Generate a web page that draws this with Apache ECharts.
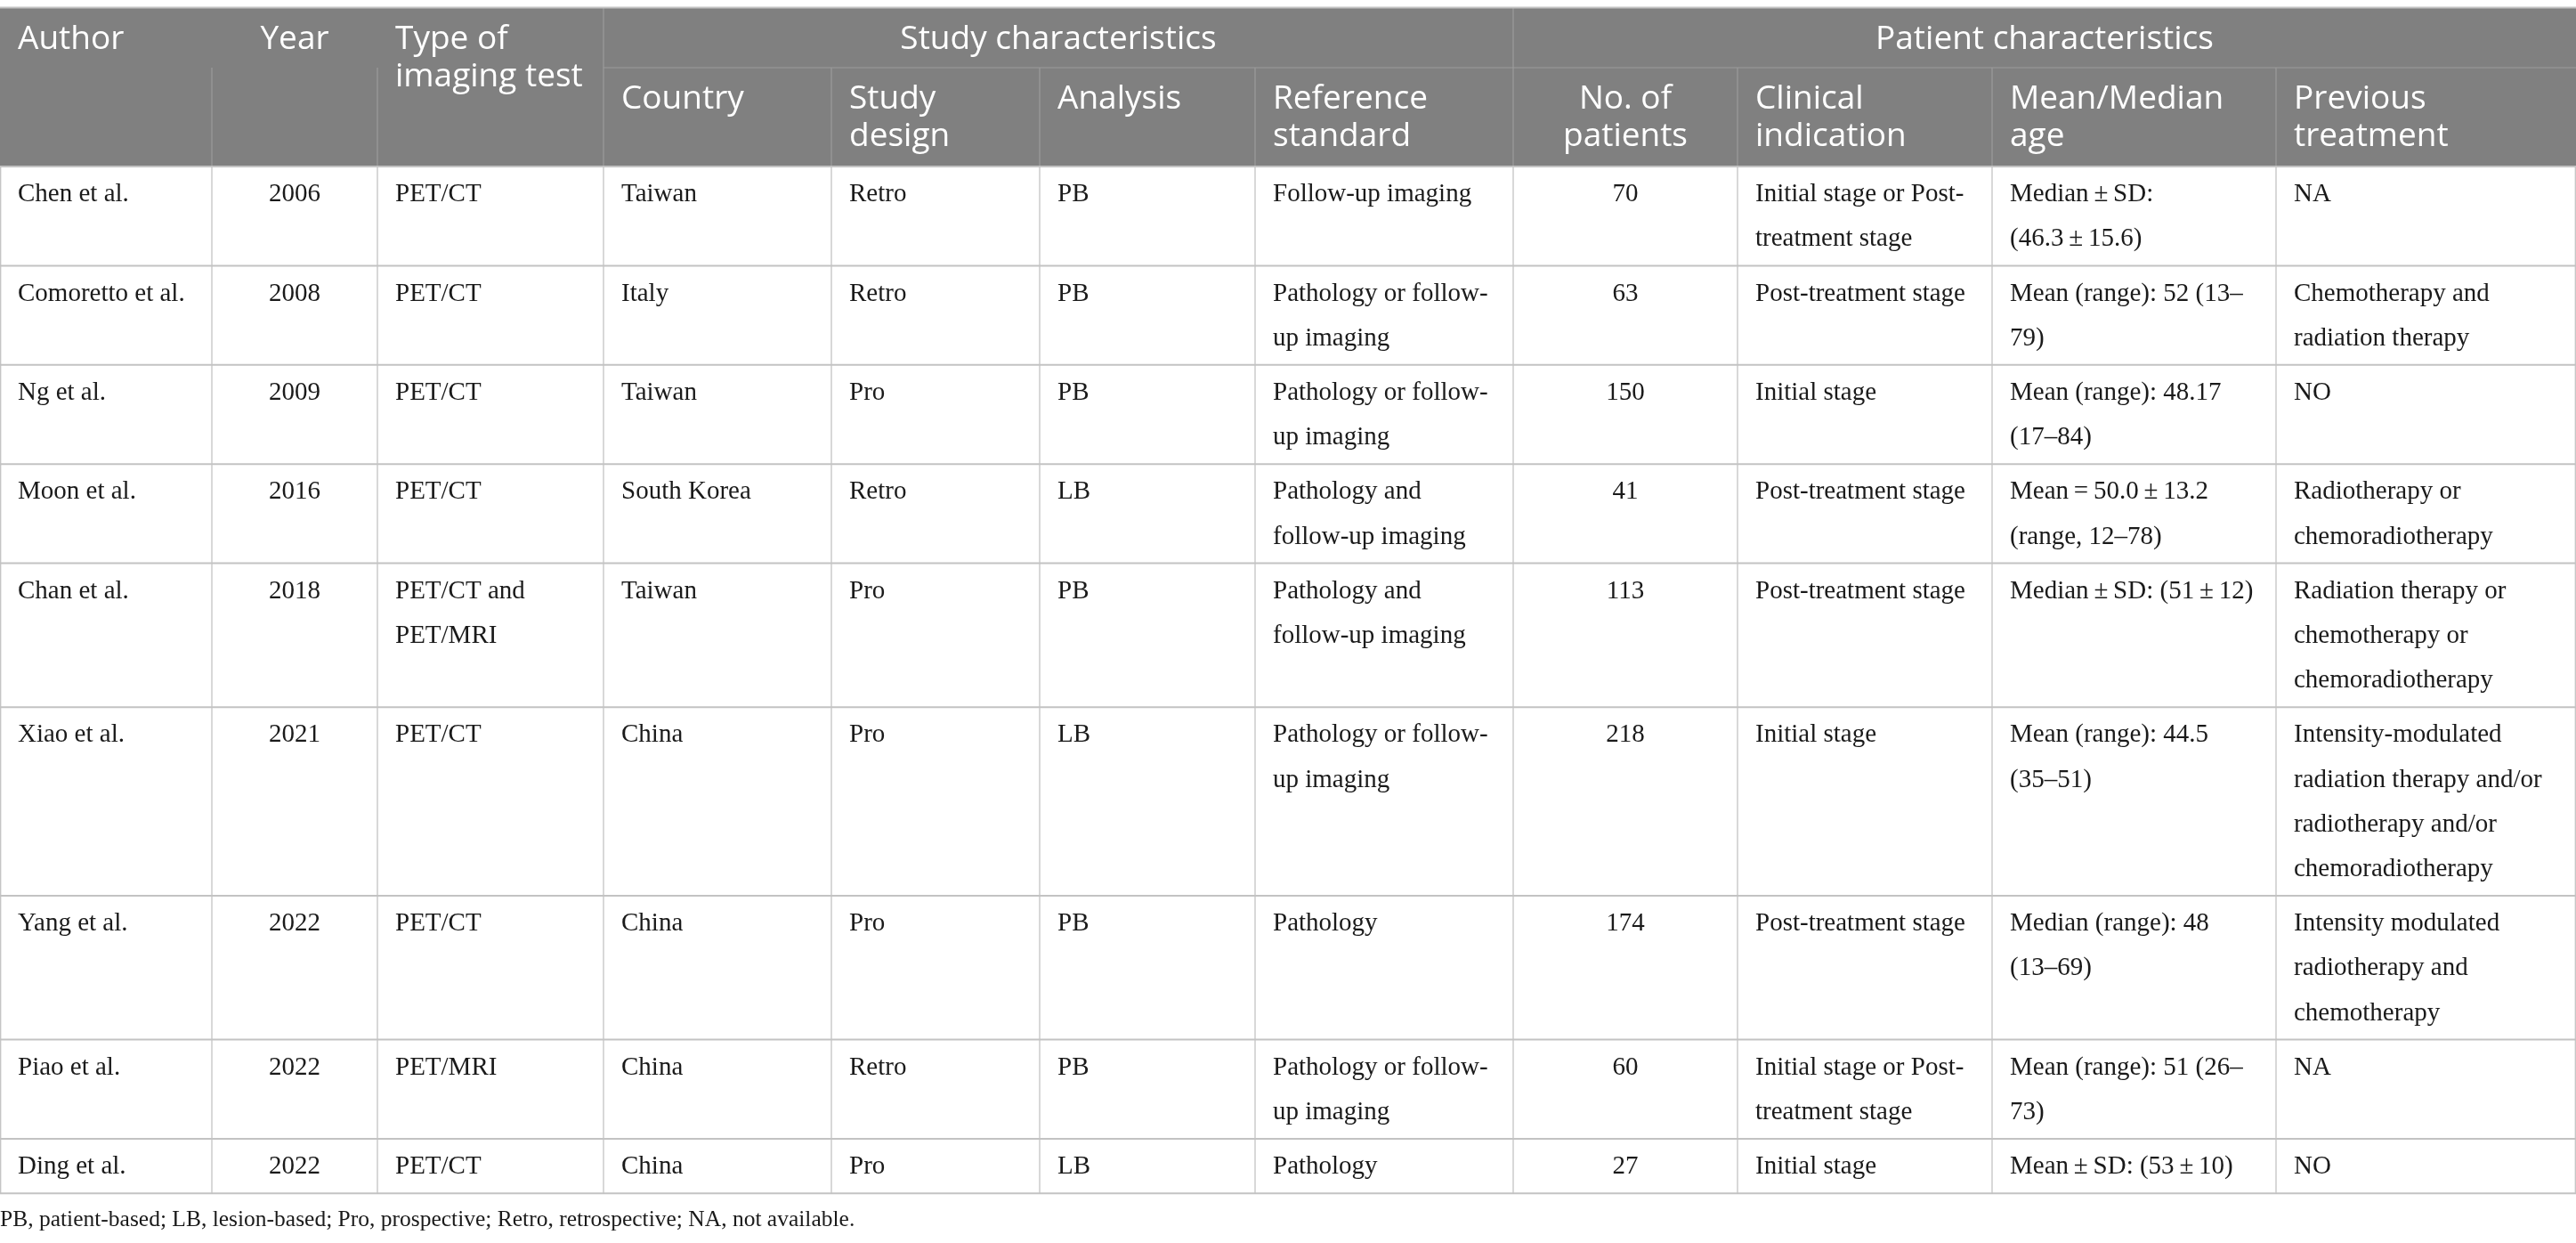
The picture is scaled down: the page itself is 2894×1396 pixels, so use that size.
<!DOCTYPE html>
<html>
<head>
<meta charset="utf-8">
<script src="https://cdn.jsdelivr.net/npm/echarts@6/dist/echarts.min.js"></script>
<style>
html,body{margin:0;padding:0;background:#fff;}
#chart{width:2894px;height:1396px;}
</style>
</head>
<body>
<div id="chart"></div>
<script>
// ---------------- DATA ----------------
const authors = ['Chen et al.', 'Comoretto et al.', 'Ng et al.', 'Moon et al.', 'Chan et al.', 'Xiao et al.', 'Yang et al.', 'Piao et al.', 'Ding et al.'];
const years = [2006, 2008, 2009, 2016, 2018, 2021, 2022, 2022, 2022];
const imagingTests = ['PET/CT', 'PET/CT', 'PET/CT', 'PET/CT', 'PET/CT and\nPET/MRI', 'PET/CT', 'PET/CT', 'PET/MRI', 'PET/CT'];
const countries = ['Taiwan', 'Italy', 'Taiwan', 'South Korea', 'Taiwan', 'China', 'China', 'China', 'China'];
const studyDesigns = ['Retro', 'Retro', 'Pro', 'Retro', 'Pro', 'Pro', 'Pro', 'Retro', 'Pro'];
const analyses = ['PB', 'PB', 'PB', 'LB', 'PB', 'LB', 'PB', 'PB', 'LB'];
const referenceStandards = ['Follow-up imaging', 'Pathology or follow-\nup imaging', 'Pathology or follow-\nup imaging', 'Pathology and\nfollow-up imaging', 'Pathology and\nfollow-up imaging', 'Pathology or follow-\nup imaging', 'Pathology', 'Pathology or follow-\nup imaging', 'Pathology'];
const patientCounts = [70, 63, 150, 41, 113, 218, 174, 60, 27];
const clinicalIndications = ['Initial stage or Post-\ntreatment stage', 'Post-treatment stage', 'Initial stage', 'Post-treatment stage', 'Post-treatment stage', 'Initial stage', 'Post-treatment stage', 'Initial stage or Post-\ntreatment stage', 'Initial stage'];
const ages = ['Median\u2009±\u2009SD:\n(46.3\u2009±\u200915.6)', 'Mean (range): 52 (13–\n79)', 'Mean (range): 48.17\n(17–84)', 'Mean\u2009=\u200950.0\u2009±\u200913.2\n(range, 12–78)', 'Median\u2009±\u2009SD: (51\u2009±\u200912)', 'Mean (range): 44.5\n(35–51)', 'Median (range): 48\n(13–69)', 'Mean (range): 51 (26–\n73)', 'Mean\u2009±\u2009SD: (53\u2009±\u200910)'];
const previousTreatments = ['NA', 'Chemotherapy and\nradiation therapy', 'NO', 'Radiotherapy or\nchemoradiotherapy', 'Radiation therapy or\nchemotherapy or\nchemoradiotherapy', 'Intensity-modulated\nradiation therapy and/or\nradiotherapy and/or\nchemoradiotherapy', 'Intensity modulated\nradiotherapy and\nchemotherapy', 'NA', 'NO'];

const groupHeaders = ['Study characteristics', 'Patient characteristics'];
const columnHeaders = ['Author', 'Year', 'Type of\nimaging test', 'Country', 'Study\ndesign', 'Analysis', 'Reference\nstandard', 'No. of\npatients', 'Clinical\nindication', 'Mean/Median\nage', 'Previous\ntreatment'];
const footnote = 'PB, patient-based; LB, lesion-based; Pro, prospective; Retro, retrospective; NA, not available.';

// ---------------- LAYOUT ----------------
const W = 2894, H = 1396;
const colEdges = [0, 238, 424, 678, 934, 1168, 1410, 1700, 1952, 2238, 2557, 2894];
const centeredCols = [1, 7];
const groupSpans = [[3, 7], [7, 11]];   // column index ranges for group headers
const headerTop = 9, headerMid = 76, headerBottom = 187;
const bodyLineH = 50.2, bodyRowPad = 11;
const padX = 20;
const bodyFont = 'Liberation Serif', headFont = 'Open Sans';
const bodySize = 29, headSize = 37, headLineH = 42;
const headPadTop = 14, bodyPadTop = 6.5;

const columns = [authors, years, imagingTests, countries, studyDesigns, analyses, referenceStandards, patientCounts, clinicalIndications, ages, previousTreatments];

// row boundaries from number of text lines
const rowEdges = [headerBottom];
authors.forEach((_, r) => {
  let n = 1;
  columns.forEach(c => { n = Math.max(n, String(c[r]).split('\n').length); });
  rowEdges.push(rowEdges[rowEdges.length - 1] + bodyRowPad + bodyLineH * n);
});

// cells: [x0, x1, y0, y1, idx]
const cellInfo = [];
const cellData = [];
function addCell(x0, x1, y0, y1, text, kind, align) {
  cellInfo.push({ text: text, kind: kind, align: align });
  cellData.push([x0, x1, y0, y1, cellInfo.length - 1]);
}
for (let c = 0; c < 3; c++) {
  addCell(colEdges[c], colEdges[c + 1], headerTop, headerBottom, columnHeaders[c], 'head', centeredCols.includes(c) ? 'center' : 'left');
}
groupSpans.forEach((g, i) => {
  addCell(colEdges[g[0]], colEdges[g[1]], headerTop, headerMid, groupHeaders[i], 'head', 'center');
});
for (let c = 3; c < columnHeaders.length; c++) {
  addCell(colEdges[c], colEdges[c + 1], headerMid, headerBottom, columnHeaders[c], 'head', centeredCols.includes(c) ? 'center' : 'left');
}
authors.forEach((_, r) => {
  columns.forEach((col, c) => {
    addCell(colEdges[c], colEdges[c + 1], rowEdges[r], rowEdges[r + 1], String(col[r]), 'body', centeredCols.includes(c) ? 'center' : 'left');
  });
});

// lines: [x0, y0, x1, y1, kindIdx]
const lineKinds = [
  { color: '#9b9b9b', width: 1.2 },  // header inner
  { color: '#c3c3c3', width: 2 },    // body horizontal
  { color: '#c3c3c3', width: 1.3 }   // body vertical
];
const lineData = [];
lineData.push([colEdges[3], headerMid, W, headerMid, 0]);
for (let c = 1; c < colEdges.length - 1; c++) {
  const y0 = (c === 3 || c === 7) ? headerTop : headerMid;
  lineData.push([colEdges[c], y0, colEdges[c], headerBottom, 0]);
}
lineData.push([0, headerTop - 0.5, W, headerTop - 0.5, 1]);
rowEdges.forEach(y => lineData.push([0, y, W, y, 1]));
colEdges.forEach((x, c) => {
  const xx = c === 0 ? 0.7 : (c === colEdges.length - 1 ? W - 0.7 : x);
  lineData.push([xx, headerBottom, xx, rowEdges[rowEdges.length - 1], 2]);
});

const chart = echarts.init(document.getElementById('chart'), null, { renderer: 'canvas' });
chart.setOption({
  animation: false,
  backgroundColor: '#ffffff',
  title: {
    text: footnote, left: 0, top: 1357, padding: 0,
    textStyle: { fontFamily: bodyFont, fontSize: 25.5, fontWeight: 'normal', color: '#1a1a1a' }
  },
  grid: { left: 0, right: 0, top: 0, bottom: 0 },
  xAxis: { type: 'value', min: 0, max: W, show: false },
  yAxis: { type: 'value', min: 0, max: H, inverse: true, show: false },
  series: [
    {
      type: 'custom',
      coordinateSystem: 'cartesian2d',
      data: cellData,
      silent: true,
      renderItem: function (params, api) {
        const info = cellInfo[api.value(4)];
        const p0 = api.coord([api.value(0), api.value(2)]);
        const p1 = api.coord([api.value(1), api.value(3)]);
        const isHead = info.kind === 'head';
        const children = [];
        if (isHead) {
          children.push({ type: 'rect', shape: { x: p0[0], y: p0[1], width: p1[0] - p0[0], height: p1[1] - p0[1] }, style: { fill: '#808080' } });
        }
        const tx = info.align === 'center' ? (p0[0] + p1[0]) / 2 : p0[0] + padX;
        children.push({
          type: 'text',
          x: tx,
          y: p0[1] + (isHead ? headPadTop : bodyPadTop),
          style: {
            text: info.text,
            fill: isHead ? '#ffffff' : '#1a1a1a',
            font: (isHead ? headSize : bodySize) + 'px "' + (isHead ? headFont : bodyFont) + '"',
            lineHeight: isHead ? headLineH : bodyLineH,
            align: info.align,
            verticalAlign: 'top'
          }
        });
        return { type: 'group', children: children };
      }
    },
    {
      type: 'custom',
      coordinateSystem: 'cartesian2d',
      data: lineData,
      silent: true,
      z: 5,
      renderItem: function (params, api) {
        const k = lineKinds[api.value(4)];
        const a = api.coord([api.value(0), api.value(1)]);
        const b = api.coord([api.value(2), api.value(3)]);
        return { type: 'line', shape: { x1: a[0], y1: a[1], x2: b[0], y2: b[1] }, style: { stroke: k.color, lineWidth: k.width } };
      }
    }
  ]
});
</script>
</body>
</html>
